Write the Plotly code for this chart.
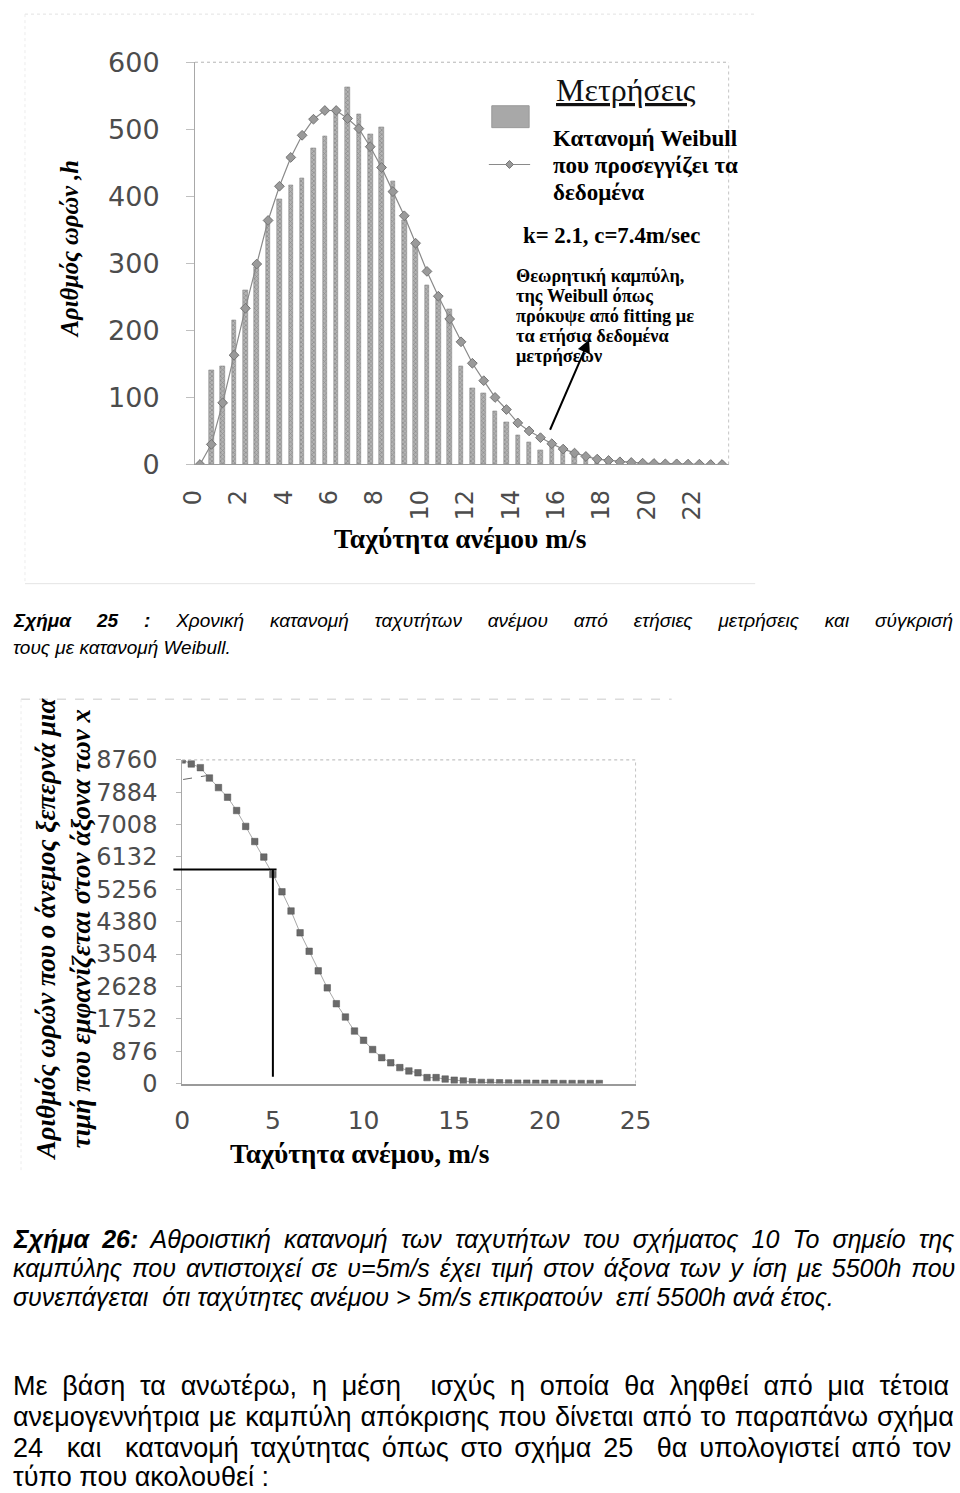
import plotly.graph_objects as go

# ---------------- data ----------------
speeds = [0, 0.5, 1, 1.5, 2, 2.5, 3, 3.5, 4, 4.5, 5, 5.5, 6, 6.5, 7, 7.5, 8, 8.5, 9, 9.5,
          10, 10.5, 11, 11.5, 12, 12.5, 13, 13.5, 14, 14.5, 15, 15.5, 16, 16.5, 17, 17.5,
          18, 18.5, 19, 19.5, 20, 20.5, 21, 21.5, 22, 22.5, 23]

measured_hours = [0, 141, 147, 215, 260, 294, 366, 396, 417, 427, 472, 490, 525, 562, 523, 493,
                  503, 423, 364, 330, 267, 252, 231, 147, 114, 106, 79, 63, 43, 33, 21, 32,
                  25, 17, 10, 6, 4, 3, 2, 1, 1, 0, 0, 0, 0, 0, 0]

weibull_hours = [0, 30, 92, 163, 233, 299, 364, 415, 458, 491, 515, 528, 528, 516, 501, 474,
                 443, 407, 371, 330, 288, 251, 217, 183, 151, 125, 100, 82, 62, 50, 40, 31,
                 23, 17, 12, 8, 6, 4, 3, 2, 1.5, 1, 1, 0.5, 0.5, 0, 0]

cumulative_hours = [8760, 8650, 8550, 8270, 8010, 7750, 7390, 6960, 6550, 6130, 5660, 5190,
                    4670, 4080, 3580, 3050, 2590, 2160, 1800, 1420, 1170, 920, 700, 560, 430,
                    340, 290, 160, 160, 120, 90, 70, 45, 30, 30, 20, 15, 10, 10, 5, 5, 5, 0,
                    0, 0, 0, 0]

x1_ticks = [0, 2, 4, 6, 8, 10, 12, 14, 16, 18, 20, 22]
y1_ticks = [0, 100, 200, 300, 400, 500, 600]
x2_ticks = [0, 5, 10, 15, 20, 25]
y2_ticks = [0, 876, 1752, 2628, 3504, 4380, 5256, 6132, 7008, 7884, 8760]

ref_speed = 5          # m/s reference line on figure 26
ref_hours = 5795       # level of the drawn horizontal guide

# layout geometry: the page (8px body margin) is fitted into the 960x1493 window
OFF = 8
SC = 960 / 976                    # page -> screen scale
W = 960
H = round(1493 / SC - 2 * OFF)    # ~1502
K = 1 / SC                        # size factor for pixel-based sizes


def P(t):
    return t / SC - OFF


def X(t):
    return P(t) / W


def Y(t):
    return 1 - P(t) / H


GRAY_TXT = "#4c4c4c"
SERIF = "Liberation Serif, Times New Roman, serif"
SANS = "Liberation Sans, Arial, sans-serif"
NUM = "DejaVu Sans, sans-serif"

fig = go.Figure()

# ---------------- figure 25 ----------------
fig.add_trace(go.Bar(
    x=speeds, y=measured_hours, width=0.2, xaxis="x", yaxis="y",
    marker=dict(color="#939393", line=dict(color="#7c7c7c", width=0.5),
                pattern=dict(shape="x", fgcolor="#666666", bgcolor="#b4b4b4", size=3, solidity=0.45)),
    showlegend=False))

fig.add_trace(go.Scatter(
    x=speeds, y=weibull_hours, mode="lines+markers", xaxis="x", yaxis="y",
    line=dict(color="#8a8a8a", width=1.2),
    marker=dict(symbol="diamond", size=7.5, color="#9a9a9a", line=dict(color="#747474", width=1)),
    showlegend=False))

# ---------------- figure 26 ----------------
fig.add_trace(go.Scatter(
    x=speeds, y=cumulative_hours, mode="lines+markers", xaxis="x2", yaxis="y2",
    line=dict(color="#a8a8a8", width=1),
    marker=dict(symbol="square", size=6.5, color="#6a6a6a", line=dict(color="#555555", width=0.5)),
    showlegend=False))

fig.update_layout(
    width=W, height=H, margin=dict(l=0, r=0, t=0, b=0),
    paper_bgcolor="white", plot_bgcolor="white", showlegend=False, bargap=0,
    xaxis=dict(domain=[X(190), X(733)], range=[-0.22, 23.29], tickvals=x1_ticks,
               tickangle=-90, tickfont=dict(family=NUM, size=24, color=GRAY_TXT),
               showline=True, linecolor="#9a9a9a", linewidth=1, ticks="",
               showgrid=False, zeroline=False, ticklabelstandoff=15, ticklabelshift=-7,
               anchor="y", fixedrange=True),
    yaxis=dict(domain=[Y(458.3), Y(54.3)], range=[0, 600], tickvals=y1_ticks,
               tickfont=dict(family=NUM, size=27, color=GRAY_TXT),
               showline=True, linecolor="#a8a8a8", linewidth=1, ticks="outside",
               ticklen=8, tickcolor="#c0c0c0", showgrid=False, zeroline=False,
               ticklabelstandoff=21, anchor="x", fixedrange=True),
    xaxis2=dict(domain=[X(177), X(638.3)], range=[0, 25], tickvals=x2_ticks,
                tickfont=dict(family=NUM, size=25, color=GRAY_TXT),
                showline=True, linecolor="#9a9a9a", linewidth=1.5, ticks="",
                showgrid=False, zeroline=False, ticklabelstandoff=14,
                anchor="y2", fixedrange=True),
    yaxis2=dict(domain=[Y(1080), Y(755)], range=[0, 8760], tickvals=y2_ticks,
                tickfont=dict(family=NUM, size=24, color=GRAY_TXT),
                showline=True, linecolor="#a8a8a8", linewidth=1, ticks="outside",
                ticklen=5, tickcolor="#b8b8b8", showgrid=False, zeroline=False,
                ticklabelstandoff=14, anchor="x2", fixedrange=True),
)

shapes = []
# dotted plot-area borders
for xr, yr in (("x", "y"), ("x2", "y2")):
    shapes.append(dict(type="line", xref=f"{xr} domain", yref=f"{yr} domain", x0=0, x1=1, y0=1, y1=1,
                       line=dict(color="#b4b4b4", width=1, dash="dot")))
    shapes.append(dict(type="line", xref=f"{xr} domain", yref=f"{yr} domain", x0=1, x1=1, y0=0, y1=1,
                       line=dict(color="#c4c4c4", width=1, dash="dot")))

# faint scan frames
shapes += [
    dict(type="line", xref="paper", yref="paper", x0=X(17), x1=X(760), y0=Y(6), y1=Y(6),
         line=dict(color="#e2e2e2", width=1, dash="dot")),
    dict(type="line", xref="paper", yref="paper", x0=X(17), x1=X(17), y0=Y(6), y1=Y(578),
         line=dict(color="#ececec", width=1, dash="dot")),
    dict(type="line", xref="paper", yref="paper", x0=X(17), x1=X(760), y0=Y(578), y1=Y(578),
         line=dict(color="#e4e4e4", width=1)),
    dict(type="line", xref="paper", yref="paper", x0=X(13), x1=X(675), y0=Y(694), y1=Y(694),
         line=dict(color="#dcdcdc", width=1.5, dash="dash")),
    dict(type="line", xref="paper", yref="paper", x0=X(13), x1=X(13), y0=Y(694), y1=Y(1170),
         line=dict(color="#ececec", width=1, dash="dot")),
]

# legend of figure 25
shapes += [
    dict(type="rect", xref="paper", yref="paper", x0=X(492), x1=X(530), y0=Y(120), y1=Y(98),
         fillcolor="#a8a8a8", line=dict(color="#9a9a9a", width=1)),
    dict(type="line", xref="paper", yref="paper", x0=X(489), x1=X(531), y0=Y(157), y1=Y(157),
         line=dict(color="#8a8a8a", width=1.2)),
    dict(type="path", xref="paper", yref="paper",
         path=f"M {X(510)},{Y(153)} L {X(514)},{Y(157)} L {X(510)},{Y(161)} L {X(506)},{Y(157)} Z",
         fillcolor="#9a9a9a", line=dict(color="#747474", width=1)),
]

# reference guide lines on figure 26
shapes += [
    dict(type="line", xref="x2 domain", yref="y2", x0=(168 - 177) / 461.3, x1=(273 - 177) / 461.3,
         y0=ref_hours, y1=ref_hours, line=dict(color="black", width=2)),
    dict(type="line", xref="x2", yref="y2", x0=ref_speed, x1=ref_speed, y0=180, y1=ref_hours,
         line=dict(color="black", width=2)),
    dict(type="line", xref="x2", yref="y2", x0=0.05, x1=1.3, y0=8230, y1=8330,
         line=dict(color="#666666", width=1, dash="dash")),
]
fig.update_layout(shapes=shapes)

anns = []


def ann(text, x, y, size, family, color="black", xanchor="center", yanchor="middle",
        angle=0, italic=False):
    font = dict(size=size, family=family, color=color)
    if italic:
        font["style"] = "italic"
    anns.append(dict(text=text, x=X(x), y=Y(y), xref="paper", yref="paper", showarrow=False,
                     xanchor=xanchor, yanchor=yanchor, textangle=angle, font=font))


def just(text, ws):
    return f'<span style="word-spacing:{ws}px">{text}</span>'


# figure 25 texts
ann("<b><i>Αριθμός ωρών ,h</i></b>", 62, 242, 24.5, SERIF, angle=-90)
ann("<b>Ταχύτητα ανέμου m/s</b>", 460, 533, 27.5, SERIF)
ann("<u>Μετρήσεις</u>", 555, 82, 32, SERIF, color="#111111", xanchor="left")
ann("<b>Κατανομή Weibull</b>", 552, 131, 23, SERIF, xanchor="left")
ann("<b>που προσεγγίζει τα</b>", 552, 158, 23, SERIF, xanchor="left")
ann("<b>δεδομένα</b>", 552, 185, 23, SERIF, xanchor="left")
ann("<b>k= 2.1, c=7.4m/sec</b>", 522, 228, 22.8, SERIF, xanchor="left")
for txt, yy in (("Θεωρητική καμπύλη,", 269), ("της Weibull όπως", 289), ("πρόκυψε από fitting με", 309),
                ("τα ετήσια δεδομένα", 329), ("μετρήσεων", 349)):
    ann(f"<b>{txt}</b>", 515, yy, 18.3, SERIF, xanchor="left")

# arrow
anns.append(dict(text="", x=X(591), y=Y(333), xref="paper", yref="paper", showarrow=True,
                 ax=(552 - 591) * K, ay=(423 - 333) * K, arrowhead=2, arrowsize=1.3, arrowwidth=2,
                 arrowcolor="black", standoff=0))

# caption 25
ann(just("<b>Σχήμα 25 :</b> Χρονική κατανομή ταχυτήτων ανέμου από ετήσιες μετρήσεις και σύγκρισή", 20.6),
    3, 615, 19, SANS, xanchor="left", italic=True)
ann("τους με κατανομή Weibull.", 3, 642, 19, SANS, xanchor="left", italic=True)

# figure 26 texts
ann("<b><i>Αριθμός ωρών που ο άνεμος ξεπερνά μια<br>τιμή που εμφανίζεται στον άξονα των x</i></b>",
    56, 925, 27, SERIF, angle=-90)
ann("<b>Ταχύτητα ανέμου, m/s</b>", 358, 1150, 27.5, SERIF)

# caption 26
ann(just("<b>Σχήμα 26:</b> Αθροιστική κατανομή των ταχυτήτων του σχήματος 10 Το σημείο της", 6.2),
    3, 1236, 25, SANS, xanchor="left", italic=True)
ann(just("καμπύλης που αντιστοιχεί σε υ=5m/s έχει τιμή στον άξονα των y ίση με 5500h που", 3.0),
    3, 1265, 25, SANS, xanchor="left", italic=True)
ann("συνεπάγεται&nbsp; ότι ταχύτητες ανέμου &gt; 5m/s επικρατούν&nbsp; επί 5500h ανά έτος.",
    3, 1294, 25, SANS, xanchor="left", italic=True)

# paragraph
ann(just("Με βάση τα ανωτέρω, η μέση&nbsp; ισχύς η οποία θα ληφθεί από μια τέτοια", 7.3),
    3, 1384, 27, SANS, xanchor="left")
ann(just("ανεμογεννήτρια με καμπύλη απόκρισης που δίνεται από το παραπάνω σχήμα", 1.4),
    3, 1415, 27, SANS, xanchor="left")
ann(just("24&nbsp; και&nbsp; κατανομή ταχύτητας όπως στο σχήμα 25&nbsp; θα υπολογιστεί από τον", 4.3),
    3, 1446, 27, SANS, xanchor="left")
ann("τύπο που ακολουθεί :", 3, 1475, 27, SANS, xanchor="left")

fig.update_layout(annotations=anns)

fig.write_html("out.html")
